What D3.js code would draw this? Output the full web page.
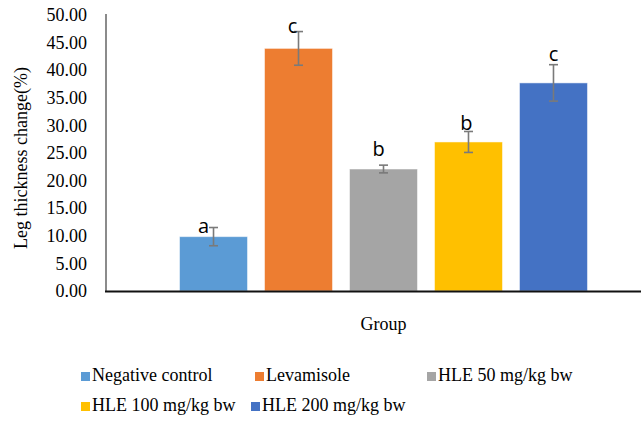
<!DOCTYPE html>
<html>
<head>
<meta charset="utf-8">
<script src="https://cdn.jsdelivr.net/npm/d3@7"></script>
<style>
  html, body { margin: 0; padding: 0; background: #fff; }
  svg { display: block; }
  text { font-family: "Liberation Serif", "Times New Roman", serif; }
  text.sig { font-family: "Open Sans", "Liberation Sans", Arial, sans-serif; }
</style>
</head>
<body>
<svg id="chart" width="641" height="421"></svg>
<script>
// ---- data ----
const categories = ["Group"];
const seriesNames = ["Negative control", "Levamisole", "HLE 50 mg/kg bw", "HLE 100 mg/kg bw", "HLE 200 mg/kg bw"];
const seriesValues = [9.85, 43.95, 22.1, 27.0, 37.7];
const seriesErrors = [1.65, 3.05, 0.7, 1.9, 3.3];
const sigLetters = ["a", "c", "b", "b", "c"];
const yTicks = [0, 5, 10, 15, 20, 25, 30, 35, 40, 45, 50];

// ---- styles / layout ----
const colors = ["#5B9BD5", "#ED7D31", "#A5A5A5", "#FFC000", "#4472C4"];
const letterNudge = [[-10, 5], [-6, 1], [-5, -9], [-2, -1], [0, -4]];
const legendPos = [[81, 381], [255, 381], [427, 381], [81, 411], [251, 411]];

const svg = d3.select("#chart");
const plot = { left: 106, right: 661, top: 15, bottom: 291 };

const y = d3.scaleLinear().domain([0, 50]).range([plot.bottom, plot.top]);
const x0 = d3.scaleBand().domain(categories).range([plot.left, plot.right]);
const x1 = d3.scaleBand().domain(seriesNames).range([0, x0.bandwidth()])
  .paddingInner(0.2).paddingOuter(0.865);

// y axis labels
const yAxis = d3.axisLeft(y).tickValues(yTicks).tickFormat(d3.format(".2f")).tickSize(0).tickPadding(19);
const gy = svg.append("g").attr("transform", `translate(${plot.left},0)`).call(yAxis);
gy.select(".domain").remove();
gy.selectAll("text")
  .attr("font-size", 18)
  .attr("fill", "#000");

// y axis line
svg.append("line")
  .attr("x1", plot.left).attr("x2", plot.left)
  .attr("y1", y(50) - 1).attr("y2", y(0))
  .attr("stroke", "#6e6e6e").attr("stroke-width", 1.6);

const groups = svg.append("g").selectAll("g").data(categories).join("g")
  .attr("transform", d => `translate(${x0(d)},0)`);

const rows = seriesNames.map((s, i) => ({ s, v: seriesValues[i], e: seriesErrors[i], l: sigLetters[i], i }));

groups.selectAll("rect").data(rows).join("rect")
  .attr("x", d => x1(d.s))
  .attr("y", d => y(d.v))
  .attr("width", x1.bandwidth())
  .attr("height", d => y(0) - y(d.v))
  .attr("fill", (d) => colors[d.i])
  .attr("stroke", "rgba(255,255,255,0.5)")
  .attr("stroke-width", 1);

// baseline
svg.append("line")
  .attr("x1", plot.left - 1).attr("x2", 641)
  .attr("y1", y(0) + 0.5).attr("y2", y(0) + 0.5)
  .attr("stroke", "#111").attr("stroke-width", 1.8);

// error bars
const eb = groups.selectAll("g.err").data(rows).join("g").attr("class", "err")
  .attr("stroke", "#7a7a7a").attr("stroke-width", 1.6);
eb.append("line")
  .attr("x1", d => x1(d.s) + x1.bandwidth() / 2).attr("x2", d => x1(d.s) + x1.bandwidth() / 2)
  .attr("y1", d => y(d.v + d.e)).attr("y2", d => y(d.v - d.e));
eb.append("line")
  .attr("x1", d => x1(d.s) + x1.bandwidth() / 2 - 4.5).attr("x2", d => x1(d.s) + x1.bandwidth() / 2 + 4.5)
  .attr("y1", d => y(d.v + d.e)).attr("y2", d => y(d.v + d.e));
eb.append("line")
  .attr("x1", d => x1(d.s) + x1.bandwidth() / 2 - 4.5).attr("x2", d => x1(d.s) + x1.bandwidth() / 2 + 4.5)
  .attr("y1", d => y(d.v - d.e)).attr("y2", d => y(d.v - d.e));

// significance letters
groups.selectAll("text.sig").data(rows).join("text").attr("class", "sig")
  .attr("x", d => x1(d.s) + x1.bandwidth() / 2 + letterNudge[d.i][0])
  .attr("y", d => y(d.v + d.e) + letterNudge[d.i][1])
  .attr("text-anchor", "middle")
  .attr("font-size", 20)
  .attr("fill", "#000")
  .text(d => d.l);

// axis titles
svg.append("text")
  .attr("transform", `translate(27,${(plot.top + plot.bottom) / 2 + 5}) rotate(-90)`)
  .attr("text-anchor", "middle")
  .attr("font-size", 18)
  .attr("fill", "#000")
  .text("Leg thickness change(%)");

svg.append("text")
  .attr("x", x0("Group") + x1(seriesNames[2]) + x1.bandwidth() / 2)
  .attr("y", 330)
  .attr("text-anchor", "middle")
  .attr("font-size", 18)
  .attr("fill", "#000")
  .text(categories[0]);

// legend
const lg = svg.append("g").selectAll("g").data(rows).join("g")
  .attr("transform", d => `translate(${legendPos[d.i][0]},${legendPos[d.i][1]})`);
lg.append("rect").attr("x", 0).attr("y", -9).attr("width", 9).attr("height", 9)
  .attr("fill", d => colors[d.i]);
lg.append("text").attr("x", 11).attr("y", 0)
  .attr("font-size", 18).attr("fill", "#000")
  .text(d => d.s);
</script>
</body>
</html>
